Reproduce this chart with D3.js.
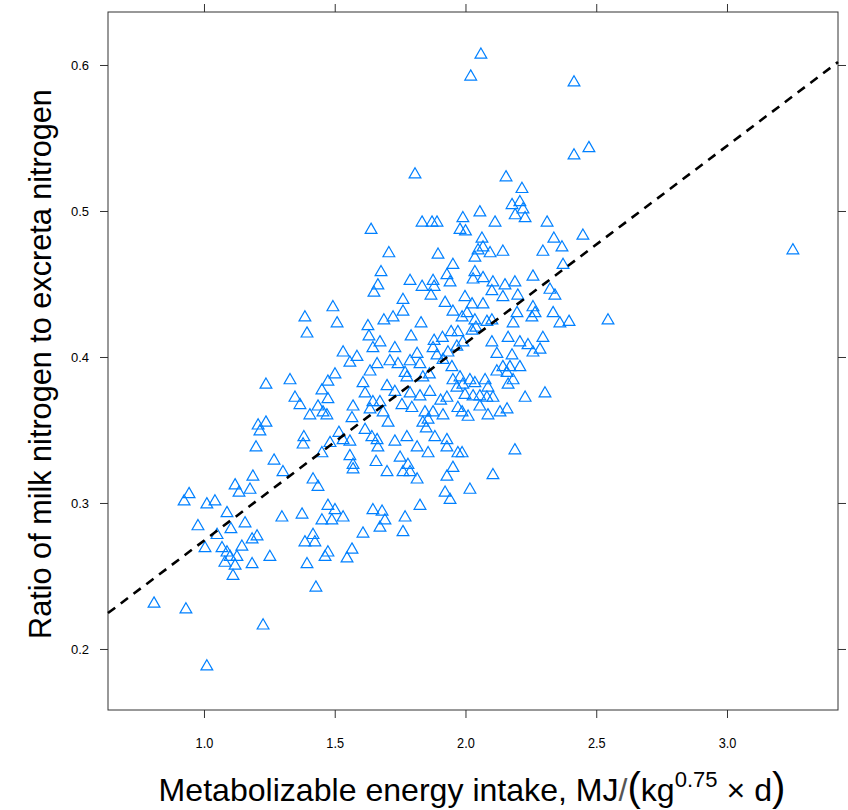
<!DOCTYPE html>
<html>
<head>
<meta charset="utf-8">
<script src="https://cdn.jsdelivr.net/npm/d3@7"></script>
<style>
  body { margin: 0; background: #fff; }
  svg { display: block; }
  text { font-family: "Liberation Sans", Arial, sans-serif; }
</style>
</head>
<body>
<script>
// metabolizable energy intake, MJ/(kg^0.75 x d)
var meIntake = [
  2.059, 2.020, 2.415, 1.807, 2.472, 2.415, 2.155, 2.216, 2.178, 2.208,
  2.220, 2.190, 2.228, 2.055, 1.990, 1.979, 2.000, 2.113, 2.312, 2.338,
  2.369, 2.296, 2.063, 2.067, 2.048, 2.094, 2.143, 2.036, 2.036, 2.029,
  2.067, 2.105, 2.101, 2.151, 2.189, 2.258, 2.143, 2.200, 2.323, 2.342,
  2.373, 1.998, 2.025, 2.067, 2.006, 2.036, 2.082, 2.101, 2.258, 2.266,
  2.254, 2.182, 2.197, 2.335, 2.361, 2.025, 2.163, 2.208, 2.101, 2.296,
  2.239, 1.990, 2.285, 2.258, 2.178, 2.143, 2.120, 2.170, 2.208, 2.159,
  2.182, 2.163, 2.017, 2.036, 1.990, 2.086, 1.998, 2.029, 2.055, 2.082,
  2.105, 2.228, 2.304, 2.055, 2.159, 2.132, 2.086, 2.010, 1.987, 2.189,
  2.105, 2.017, 1.987, 1.834, 1.872, 1.891, 1.639, 1.707, 1.895, 1.952,
  1.677, 1.788, 1.665, 1.650, 1.834, 1.876, 1.880, 1.868, 1.929, 1.941,
  1.922, 1.761, 1.761, 1.723, 1.688, 1.830, 1.627, 1.631, 1.673, 1.792,
  1.880, 1.952, 1.987, 1.945, 1.971, 1.532, 1.585, 1.558, 1.646, 1.730,
  1.711, 1.742, 1.788, 1.826, 1.635, 1.662, 1.769, 1.776, 1.837, 1.876,
  1.891, 1.914, 1.933, 1.967, 1.608, 1.616, 1.646, 1.673, 1.570, 1.730,
  1.788, 1.826, 1.864, 1.757, 1.795, 1.685, 1.704, 1.635, 1.566, 1.616,
  1.642, 1.662, 1.665, 1.532, 1.558, 1.730, 1.776, 1.815, 1.857, 1.845,
  1.857, 1.837, 1.876, 1.914, 1.929, 1.952, 1.979, 1.971, 1.967, 1.883,
  1.929, 1.929, 1.971, 1.558, 1.570, 1.570, 1.658, 1.700, 1.750, 1.780,
  1.761, 1.788, 1.815, 1.929, 1.952, 1.922, 1.941, 1.646, 1.681, 1.692,
  1.769, 1.826, 1.673, 1.761, 1.608, 1.532, 1.566, 1.547, 1.493, 1.386,
  1.509, 1.394, 1.237, 1.329, 1.501, 1.474, 1.451, 1.348, 1.367, 1.474,
  1.436, 1.455, 1.470, 1.405, 1.207, 1.237, 1.214, 1.199, 1.382, 1.379,
  1.516, 1.482, 1.451, 1.268, 1.302, 1.187, 1.119, 1.134, 1.176, 1.417,
  1.436, 0.943, 0.924, 1.011, 1.042, 1.088, 1.157, 0.977, 1.050, 1.103,
  1.298, 1.375, 1.474, 1.501, 1.451, 1.489, 1.203, 1.184, 1.004, 1.069,
  1.088, 1.145, 1.100, 1.126, 1.080, 1.119, 1.184, 1.252, 1.394, 1.386,
  1.417, 1.424, 1.463, 1.474, 1.111, 1.428, 0.809, 0.931, 1.226, 1.011,
  2.449, 2.396, 2.545, 3.252,
  1.905, 1.948, 2.040, 1.862, 1.815, 2.075, 1.700, 1.912, 2.120, 1.850
];

// ratio of milk N to excreta N
var nRatio = [
  0.607, 0.592, 0.588, 0.525, 0.543, 0.538, 0.523, 0.515, 0.504, 0.506,
  0.501, 0.497, 0.495, 0.499, 0.495, 0.487, 0.486, 0.492, 0.492, 0.481,
  0.475, 0.472, 0.481, 0.475, 0.473, 0.471, 0.472, 0.468, 0.458, 0.453,
  0.454, 0.451, 0.445, 0.449, 0.451, 0.455, 0.441, 0.442, 0.446, 0.442,
  0.463, 0.441, 0.436, 0.436, 0.430, 0.425, 0.424, 0.425, 0.434, 0.430,
  0.427, 0.423, 0.430, 0.430, 0.423, 0.418, 0.413, 0.410, 0.410, 0.413,
  0.408, 0.410, 0.405, 0.403, 0.401, 0.393, 0.390, 0.393, 0.393, 0.389,
  0.384, 0.381, 0.384, 0.382, 0.381, 0.379, 0.374, 0.373, 0.373, 0.372,
  0.372, 0.372, 0.375, 0.366, 0.364, 0.362, 0.360, 0.359, 0.362, 0.336,
  0.319, 0.309, 0.334, 0.492, 0.492, 0.492, 0.487, 0.471, 0.470, 0.463,
  0.458, 0.452, 0.449, 0.444, 0.448, 0.452, 0.448, 0.442, 0.456, 0.451,
  0.437, 0.439, 0.431, 0.427, 0.425, 0.423, 0.421, 0.414, 0.410, 0.414,
  0.411, 0.431, 0.427, 0.417, 0.417, 0.403, 0.400, 0.396, 0.406, 0.406,
  0.397, 0.395, 0.397, 0.395, 0.390, 0.395, 0.389, 0.386, 0.386, 0.406,
  0.401, 0.398, 0.403, 0.407, 0.382, 0.375, 0.369, 0.369, 0.366, 0.376,
  0.375, 0.373, 0.376, 0.367, 0.365, 0.362, 0.355, 0.364, 0.358, 0.350,
  0.345, 0.343, 0.338, 0.343, 0.342, 0.342, 0.345, 0.338, 0.334, 0.362,
  0.357, 0.355, 0.362, 0.360, 0.372, 0.384, 0.386, 0.365, 0.379, 0.345,
  0.343, 0.338, 0.334, 0.332, 0.326, 0.323, 0.328, 0.321, 0.331, 0.326,
  0.321, 0.321, 0.316, 0.318, 0.324, 0.307, 0.302, 0.295, 0.294, 0.288,
  0.290, 0.298, 0.283, 0.280, 0.279, 0.290, 0.268, 0.262, 0.434, 0.427,
  0.423, 0.416, 0.381, 0.384, 0.388, 0.383, 0.377, 0.372, 0.367, 0.371,
  0.366, 0.362, 0.360, 0.360, 0.353, 0.355, 0.349, 0.338, 0.345, 0.340,
  0.348, 0.341, 0.334, 0.329, 0.321, 0.318, 0.312, 0.307, 0.309, 0.316,
  0.311, 0.306, 0.301, 0.299, 0.301, 0.293, 0.286, 0.284, 0.278, 0.282,
  0.290, 0.292, 0.298, 0.295, 0.288, 0.288, 0.277, 0.275, 0.269, 0.269,
  0.266, 0.270, 0.263, 0.263, 0.259, 0.257, 0.258, 0.263, 0.258, 0.273,
  0.278, 0.273, 0.263, 0.266, 0.250, 0.242, 0.231, 0.227, 0.216, 0.188,
  0.483, 0.424, 0.425, 0.473,
  0.370, 0.393, 0.420, 0.388, 0.402, 0.384, 0.380, 0.413, 0.402, 0.351
];

var xTicks = [1.0, 1.5, 2.0, 2.5, 3.0];
var yTicks = [0.2, 0.3, 0.4, 0.5, 0.6];

// fitted regression line (dashed)
var fitIntercept = 0.139;
var fitSlope = 0.1352;

var svgWidth = 848;
var svgHeight = 810;

var margin = {
  top: 12,
  right: 10,
  bottom: 100,
  left: 108
};

var width = svgWidth - margin.left - margin.right;
var height = svgHeight - margin.top - margin.bottom;

var svg = d3.select("body")
  .append("svg")
  .attr("width", svgWidth)
  .attr("height", svgHeight);

var chartGroup = svg.append("g")
  .attr("transform", `translate(${margin.left}, ${margin.top})`);

var xScale = d3.scaleLinear().domain([0.633, 3.4245]).range([0, width]);
var yScale = d3.scaleLinear().domain([0.1582, 0.6363]).range([height, 0]);

var frameColor = "#333";

// axes on all four sides, ticks outward, labels only left and bottom
var bottomAxis = chartGroup.append("g")
  .attr("transform", `translate(0, ${height})`)
  .call(d3.axisBottom(xScale).tickValues(xTicks).tickSize(8).tickPadding(19)
    .tickFormat(d3.format(".1f")));
var topAxis = chartGroup.append("g")
  .call(d3.axisTop(xScale).tickValues(xTicks).tickSize(8).tickFormat(""));
var leftAxis = chartGroup.append("g")
  .call(d3.axisLeft(yScale).tickValues(yTicks).tickSize(8).tickPadding(11)
    .tickFormat(d3.format(".1f")));
var rightAxis = chartGroup.append("g")
  .attr("transform", `translate(${width}, 0)`)
  .call(d3.axisRight(yScale).tickValues(yTicks).tickSize(8).tickFormat(""));

[bottomAxis, topAxis, leftAxis, rightAxis].forEach(function(ax) {
  ax.select(".domain").remove();
  ax.selectAll(".tick line").attr("stroke", frameColor);
  ax.selectAll("text")
    .attr("fill", "#000")
    .style("font-size", "13px");
});

// x tick labels look taller and narrower in the reference
bottomAxis.selectAll(".tick text")
  .style("font-size", "15px")
  .attr("transform", "scale(0.85, 1)")
  .attr("x", function() { return 0; });

chartGroup.append("rect")
  .attr("width", width)
  .attr("height", height)
  .attr("fill", "none")
  .attr("stroke", frameColor)
  .attr("stroke-width", 1);

// data points
var points = meIntake.map(function(d, i) {
  return { x: d, y: nRatio[i] };
});

chartGroup.selectAll(".pt")
  .data(points)
  .enter()
  .append("path")
  .classed("pt", true)
  .attr("d", d3.symbol().type(d3.symbolTriangle).size(60))
  .attr("transform", d => `translate(${xScale(d.x)}, ${yScale(d.y)})`)
  .attr("fill", "none")
  .attr("stroke", "#0080ff")
  .attr("stroke-width", 1.2);

// regression line
var xDom = xScale.domain();
var fitLine = d3.line()
  .x(d => xScale(d))
  .y(d => yScale(fitIntercept + fitSlope * d));

chartGroup.append("path")
  .datum(xDom)
  .attr("d", fitLine)
  .attr("fill", "none")
  .attr("stroke", "#000")
  .attr("stroke-width", 2.6)
  .attr("stroke-dasharray", "9,7");

// axis titles
var xTitle = svg.append("text")
  .attr("text-anchor", "middle")
  .style("font-size", "32px")
  .attr("fill", "#000");
xTitle.append("tspan").text("Metabolizable energy intake, MJ");
xTitle.append("tspan").attr("fill", "#555").style("font-weight", "300").text("/");
xTitle.append("tspan").style("font-size", "40px").text("(");
xTitle.append("tspan").text("kg");
xTitle.append("tspan").style("font-size", "22px").attr("dy", -14).text("0.75");
xTitle.append("tspan").attr("dy", 14).text(" \u00d7 d");
xTitle.append("tspan").style("font-size", "40px").text(")");

var xBox = xTitle.node().getBBox();
var xSx = 627 / xBox.width;
xTitle.attr("transform", `translate(472, 801) scale(${xSx}, 1)`);

var yTitle = svg.append("text")
  .attr("text-anchor", "middle")
  .style("font-size", "32px")
  .attr("fill", "#000")
  .text("Ratio of milk nitrogen to excreta nitrogen");
var yLen = yTitle.node().getComputedTextLength();
yTitle.attr("transform", `translate(51, 364) rotate(-90) scale(${550 / yLen}, 1)`);
</script>
</body>
</html>
